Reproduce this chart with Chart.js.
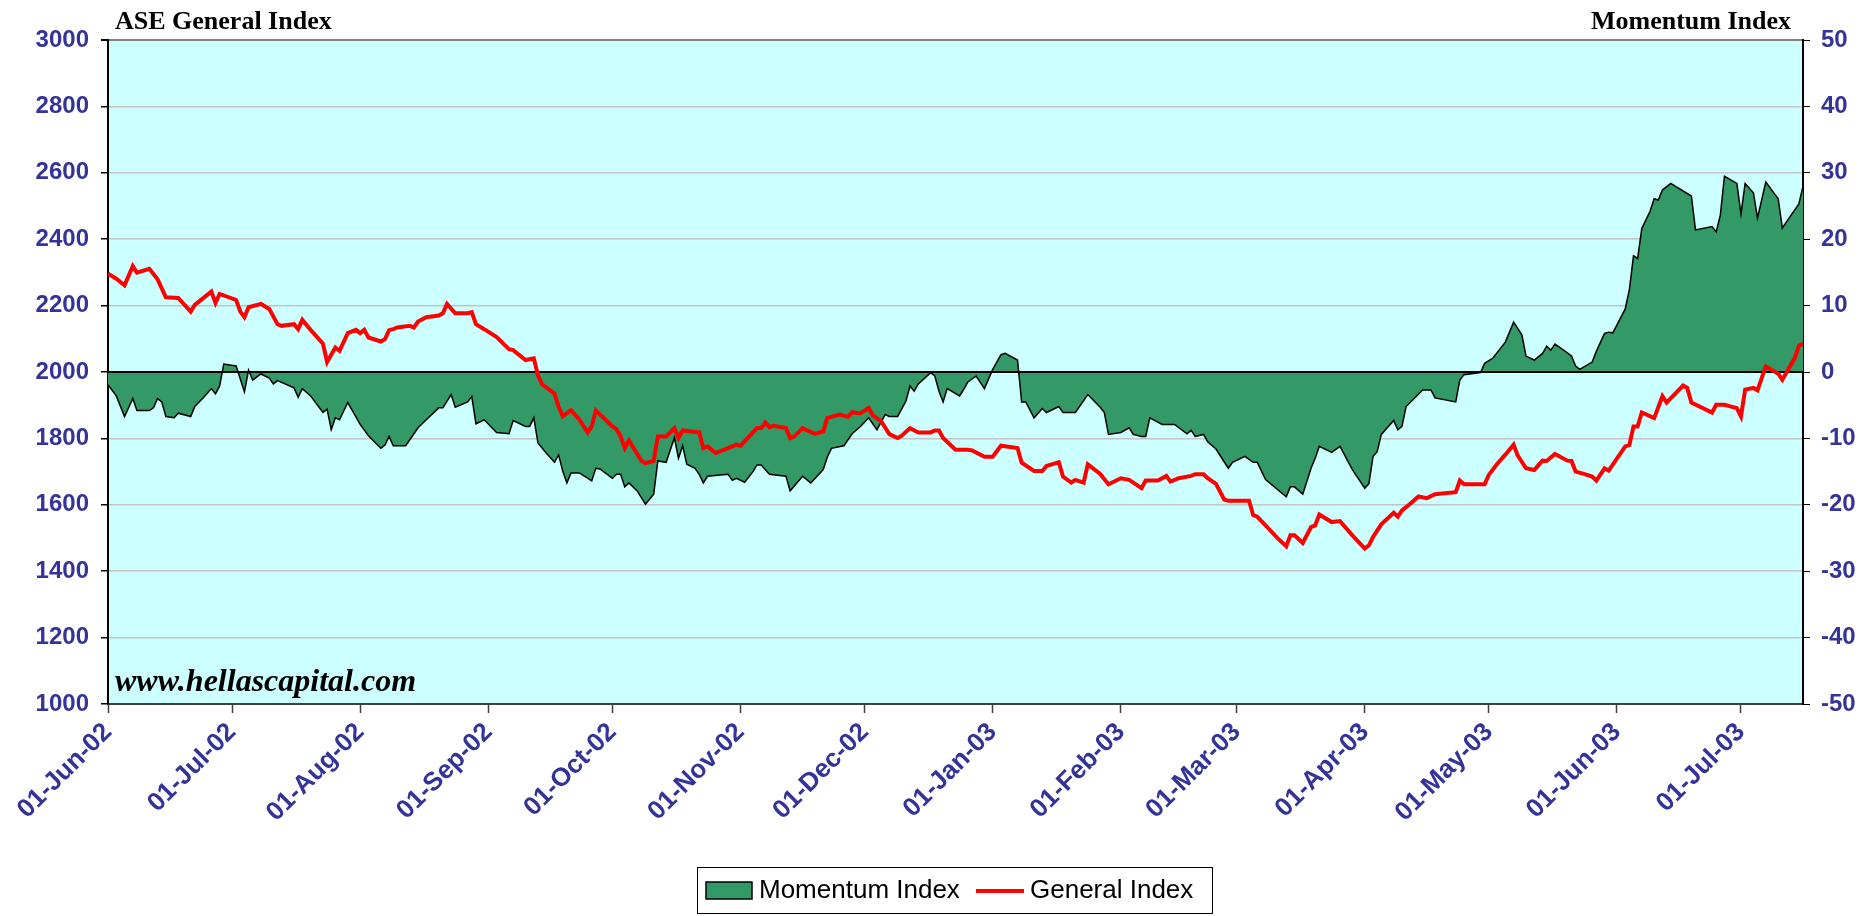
<!DOCTYPE html>
<html>
<head>
<meta charset="utf-8">
<title>ASE General Index vs Momentum Index</title>
<script src="https://cdn.jsdelivr.net/npm/chart.js@4.4.1/dist/chart.umd.min.js"></script>
<style>
  html, body { margin: 0; padding: 0; background: #ffffff; }
  canvas { display: block; }
</style>
</head>
<body>
<canvas id="chart" width="1860" height="916"></canvas>
<script>
// x axis tick labels (first of each month)
const monthTicks = ['01-Jun-02', '01-Jul-02', '01-Aug-02', '01-Sep-02', '01-Oct-02', '01-Nov-02',
    '01-Dec-02', '01-Jan-03', '01-Feb-03', '01-Mar-03', '01-Apr-03', '01-May-03', '01-Jun-03', '01-Jul-03'];
const lastDate = '2003-07-16';

// ASE General Index (left axis)
const gidxDates = [
    '2002-06-01', '2002-06-03', '2002-06-05', '2002-06-07', '2002-06-08', '2002-06-11', '2002-06-13', '2002-06-15',
    '2002-06-18', '2002-06-21', '2002-06-22', '2002-06-26', '2002-06-27', '2002-06-28', '2002-07-02', '2002-07-03',
    '2002-07-04', '2002-07-05', '2002-07-08', '2002-07-10', '2002-07-12', '2002-07-13', '2002-07-16', '2002-07-17',
    '2002-07-18', '2002-07-20', '2002-07-23', '2002-07-24', '2002-07-26', '2002-07-27', '2002-07-29', '2002-07-31',
    '2002-08-01', '2002-08-02', '2002-08-03', '2002-08-06', '2002-08-07', '2002-08-08', '2002-08-09', '2002-08-10',
    '2002-08-13', '2002-08-14', '2002-08-15', '2002-08-17', '2002-08-20', '2002-08-21', '2002-08-22', '2002-08-24',
    '2002-08-27', '2002-08-28', '2002-08-29', '2002-08-31', '2002-09-03', '2002-09-06', '2002-09-07', '2002-09-10',
    '2002-09-12', '2002-09-13', '2002-09-14', '2002-09-17', '2002-09-18', '2002-09-19', '2002-09-21', '2002-09-23',
    '2002-09-25', '2002-09-26', '2002-09-27', '2002-10-01', '2002-10-02', '2002-10-03', '2002-10-04', '2002-10-05',
    '2002-10-08', '2002-10-09', '2002-10-11', '2002-10-12', '2002-10-14', '2002-10-16', '2002-10-17', '2002-10-18',
    '2002-10-22', '2002-10-23', '2002-10-24', '2002-10-26', '2002-10-29', '2002-10-31', '2002-11-01', '2002-11-05',
    '2002-11-06', '2002-11-07', '2002-11-08', '2002-11-09', '2002-11-12', '2002-11-13', '2002-11-14', '2002-11-16',
    '2002-11-19', '2002-11-21', '2002-11-22', '2002-11-25', '2002-11-27', '2002-11-28', '2002-11-30', '2002-12-02',
    '2002-12-03', '2002-12-05', '2002-12-07', '2002-12-09', '2002-12-10', '2002-12-12', '2002-12-14', '2002-12-17',
    '2002-12-18', '2002-12-19', '2002-12-20', '2002-12-23', '2002-12-26', '2002-12-27', '2002-12-30', '2003-01-01',
    '2003-01-03', '2003-01-07', '2003-01-08', '2003-01-11', '2003-01-13', '2003-01-14', '2003-01-17', '2003-01-18',
    '2003-01-20', '2003-01-21', '2003-01-23', '2003-01-24', '2003-01-27', '2003-01-29', '2003-02-01', '2003-02-03',
    '2003-02-06', '2003-02-07', '2003-02-10', '2003-02-12', '2003-02-13', '2003-02-15', '2003-02-18', '2003-02-19',
    '2003-02-21', '2003-02-22', '2003-02-24', '2003-02-26', '2003-02-27', '2003-03-04', '2003-03-05', '2003-03-06',
    '2003-03-08', '2003-03-11', '2003-03-13', '2003-03-14', '2003-03-15', '2003-03-17', '2003-03-19', '2003-03-20',
    '2003-03-21', '2003-03-24', '2003-03-26', '2003-03-29', '2003-04-01', '2003-04-02', '2003-04-03', '2003-04-05',
    '2003-04-08', '2003-04-09', '2003-04-10', '2003-04-12', '2003-04-14', '2003-04-16', '2003-04-18', '2003-04-23',
    '2003-04-24', '2003-04-25', '2003-04-30', '2003-05-01', '2003-05-03', '2003-05-05', '2003-05-07', '2003-05-08',
    '2003-05-10', '2003-05-12', '2003-05-14', '2003-05-15', '2003-05-17', '2003-05-20', '2003-05-21', '2003-05-22',
    '2003-05-24', '2003-05-26', '2003-05-27', '2003-05-29', '2003-05-30', '2003-06-03', '2003-06-04', '2003-06-05',
    '2003-06-06', '2003-06-07', '2003-06-10', '2003-06-12', '2003-06-13', '2003-06-17', '2003-06-18', '2003-06-19',
    '2003-06-24', '2003-06-25', '2003-06-27', '2003-06-30', '2003-07-01', '2003-07-02', '2003-07-04', '2003-07-05',
    '2003-07-07', '2003-07-10', '2003-07-11', '2003-07-14', '2003-07-15', '2003-07-16'
];
const gidxValues = [
    2296, 2281, 2261, 2319, 2299, 2311, 2279, 2225,
    2223, 2182, 2202, 2242, 2208, 2235, 2217, 2182,
    2165, 2195, 2205, 2190, 2144, 2139, 2144, 2129,
    2157, 2127, 2085, 2030, 2074, 2064, 2117, 2127,
    2117, 2127, 2104, 2092, 2099, 2126, 2129, 2134,
    2139, 2134, 2152, 2165, 2170, 2177, 2205, 2177,
    2177, 2180, 2144, 2129, 2105, 2069, 2066, 2036,
    2041, 1990, 1963, 1935, 1895, 1867, 1885, 1857,
    1818, 1836, 1884, 1836, 1828, 1806, 1771, 1794,
    1733, 1725, 1733, 1806, 1806, 1831, 1801, 1824,
    1818, 1771, 1776, 1756, 1771, 1781, 1778, 1831,
    1831, 1848, 1834, 1838, 1831, 1801, 1806, 1831,
    1814, 1821, 1862, 1872, 1865, 1879, 1875, 1892,
    1869, 1852, 1813, 1801, 1808, 1831, 1818, 1818,
    1824, 1824, 1801, 1766, 1766, 1764, 1745, 1745,
    1778, 1771, 1727, 1702, 1702, 1717, 1728, 1685,
    1667, 1675, 1667, 1722, 1693, 1662, 1680, 1675,
    1650, 1673, 1673, 1687, 1670, 1680, 1687, 1692,
    1692, 1680, 1663, 1616, 1612, 1612, 1569, 1564,
    1538, 1498, 1475, 1508, 1508, 1485, 1533, 1538,
    1571, 1548, 1551, 1508, 1468, 1478, 1503, 1541,
    1576, 1564, 1583, 1603, 1625, 1620, 1632, 1638,
    1673, 1662, 1662, 1690, 1723, 1751, 1781, 1748,
    1710, 1705, 1733, 1732, 1753, 1733, 1732, 1700,
    1693, 1685, 1673, 1710, 1703, 1776, 1780, 1836,
    1836, 1878, 1861, 1927, 1908, 1959, 1952, 1908,
    1878, 1901, 1901, 1891, 1866, 1947, 1952, 1945,
    2017, 1995, 1977, 2042, 2079, 2086
];

// Momentum Index (right axis)
const momDates = [
    '2002-06-01', '2002-06-03', '2002-06-05', '2002-06-07', '2002-06-08', '2002-06-11', '2002-06-12', '2002-06-13',
    '2002-06-14', '2002-06-15', '2002-06-17', '2002-06-18', '2002-06-21', '2002-06-22', '2002-06-24', '2002-06-26',
    '2002-06-27', '2002-06-28', '2002-06-29', '2002-07-02', '2002-07-04', '2002-07-05', '2002-07-06', '2002-07-08',
    '2002-07-10', '2002-07-11', '2002-07-12', '2002-07-16', '2002-07-17', '2002-07-18', '2002-07-20', '2002-07-23',
    '2002-07-24', '2002-07-25', '2002-07-26', '2002-07-27', '2002-07-29', '2002-08-01', '2002-08-03', '2002-08-06',
    '2002-08-07', '2002-08-08', '2002-08-09', '2002-08-12', '2002-08-15', '2002-08-17', '2002-08-20', '2002-08-21',
    '2002-08-23', '2002-08-24', '2002-08-27', '2002-08-28', '2002-08-29', '2002-08-31', '2002-09-03', '2002-09-06',
    '2002-09-07', '2002-09-10', '2002-09-11', '2002-09-12', '2002-09-13', '2002-09-15', '2002-09-17', '2002-09-18',
    '2002-09-19', '2002-09-20', '2002-09-21', '2002-09-23', '2002-09-25', '2002-09-26', '2002-09-27', '2002-09-28',
    '2002-10-01', '2002-10-02', '2002-10-03', '2002-10-04', '2002-10-05', '2002-10-07', '2002-10-09', '2002-10-11',
    '2002-10-12', '2002-10-14', '2002-10-16', '2002-10-17', '2002-10-18', '2002-10-19', '2002-10-21', '2002-10-22',
    '2002-10-23', '2002-10-24', '2002-10-29', '2002-10-30', '2002-10-31', '2002-11-02', '2002-11-04', '2002-11-05',
    '2002-11-06', '2002-11-08', '2002-11-12', '2002-11-13', '2002-11-16', '2002-11-18', '2002-11-21', '2002-11-22',
    '2002-11-23', '2002-11-26', '2002-11-28', '2002-11-30', '2002-12-02', '2002-12-04', '2002-12-06', '2002-12-07',
    '2002-12-09', '2002-12-11', '2002-12-12', '2002-12-13', '2002-12-14', '2002-12-17', '2002-12-18', '2002-12-19',
    '2002-12-20', '2002-12-21', '2002-12-24', '2002-12-25', '2002-12-26', '2002-12-28', '2002-12-30', '2003-01-01',
    '2003-01-03', '2003-01-04', '2003-01-07', '2003-01-08', '2003-01-09', '2003-01-11', '2003-01-13', '2003-01-14',
    '2003-01-17', '2003-01-18', '2003-01-21', '2003-01-24', '2003-01-27', '2003-01-28', '2003-01-29', '2003-02-01',
    '2003-02-03', '2003-02-04', '2003-02-06', '2003-02-07', '2003-02-08', '2003-02-11', '2003-02-14', '2003-02-17',
    '2003-02-18', '2003-02-19', '2003-02-21', '2003-02-22', '2003-02-24', '2003-02-27', '2003-02-28', '2003-03-03',
    '2003-03-05', '2003-03-06', '2003-03-08', '2003-03-13', '2003-03-14', '2003-03-15', '2003-03-17', '2003-03-19',
    '2003-03-20', '2003-03-21', '2003-03-24', '2003-03-26', '2003-03-29', '2003-04-01', '2003-04-02', '2003-04-03',
    '2003-04-04', '2003-04-05', '2003-04-08', '2003-04-09', '2003-04-10', '2003-04-11', '2003-04-15', '2003-04-17',
    '2003-04-18', '2003-04-23', '2003-04-24', '2003-04-25', '2003-04-29', '2003-04-30', '2003-05-02', '2003-05-05',
    '2003-05-07', '2003-05-09', '2003-05-10', '2003-05-12', '2003-05-14', '2003-05-15', '2003-05-16', '2003-05-17',
    '2003-05-20', '2003-05-21', '2003-05-22', '2003-05-23', '2003-05-26', '2003-05-27', '2003-05-29', '2003-05-30',
    '2003-05-31', '2003-06-03', '2003-06-04', '2003-06-05', '2003-06-06', '2003-06-07', '2003-06-09', '2003-06-10',
    '2003-06-11', '2003-06-12', '2003-06-14', '2003-06-19', '2003-06-20', '2003-06-24', '2003-06-25', '2003-06-26',
    '2003-06-27', '2003-06-30', '2003-07-01', '2003-07-02', '2003-07-04', '2003-07-05', '2003-07-07', '2003-07-10',
    '2003-07-11', '2003-07-15', '2003-07-16'
];
const momValues = [
    -1.9, -3.6, -6.7, -4.0, -5.8, -5.8, -5.4, -4.0,
    -4.5, -6.7, -6.9, -6.2, -6.7, -5.2, -3.9, -2.5,
    -3.3, -2.1, 1.2, 0.9, -3.0, 0.3, -1.2, -0.3,
    -0.9, -1.8, -1.3, -2.4, -3.8, -2.5, -3.6, -6.1,
    -5.6, -8.7, -6.9, -7.2, -4.6, -7.9, -9.6, -11.5,
    -11.0, -9.7, -11.1, -11.1, -8.4, -7.2, -5.4, -5.4,
    -3.4, -5.3, -4.5, -3.7, -7.8, -7.2, -9.1, -9.3,
    -7.3, -8.2, -8.2, -6.9, -10.7, -12.2, -13.6, -12.5,
    -14.9, -16.7, -15.2, -15.2, -16.0, -16.4, -14.5, -14.6,
    -16.0, -15.4, -15.4, -17.3, -16.7, -17.9, -19.9, -18.4,
    -13.4, -13.6, -9.9, -13.0, -11.1, -13.9, -14.5, -15.4,
    -16.7, -15.7, -15.4, -16.3, -16.0, -16.6, -15.0, -14.0,
    -14.0, -15.4, -15.7, -17.9, -15.7, -16.7, -14.7, -12.8,
    -11.5, -11.1, -9.3, -8.2, -6.9, -8.7, -6.4, -6.7,
    -6.7, -4.4, -2.1, -2.9, -1.8, -0.1, -0.6, -2.9,
    -4.5, -2.5, -3.6, -2.6, -1.5, -0.6, -2.5, 0.4,
    2.6, 2.8, 1.8, -4.5, -4.5, -6.9, -5.5, -6.1,
    -5.2, -6.1, -6.1, -3.4, -5.3, -6.1, -9.4, -9.1,
    -8.4, -9.4, -9.7, -9.7, -6.9, -7.9, -7.9, -9.3,
    -8.8, -9.7, -9.4, -10.5, -11.6, -14.5, -13.6, -12.7,
    -13.6, -13.6, -16.2, -18.8, -17.3, -17.3, -18.4, -14.5,
    -13.0, -11.2, -12.1, -11.2, -14.7, -17.5, -16.8, -12.7,
    -12.0, -9.4, -7.3, -8.7, -8.2, -5.2, -2.7, -2.7,
    -3.9, -4.5, -1.2, -0.4, -0.1, 1.3, 2.1, 4.5,
    7.5, 5.6, 2.4, 1.8, 2.8, 3.9, 3.3, 4.2,
    2.9, 2.4, 0.9, 0.4, 1.5, 3.1, 5.8, 6.0,
    5.9, 9.5, 12.4, 17.5, 17.1, 21.6, 24.2, 26.1,
    25.9, 27.4, 28.4, 26.5, 21.4, 21.9, 21.1, 23.6,
    29.5, 28.4, 23.8, 28.4, 27.0, 23.2, 28.6, 26.1,
    21.7, 25.3, 28.0
];

const MONTHS = ['Jan', 'Feb', 'Mar', 'Apr', 'May', 'Jun', 'Jul', 'Aug', 'Sep', 'Oct', 'Nov', 'Dec'];
const START = Date.UTC(2002, 5, 1);

// days since 01-Jun-02
function dayOf(iso) {
    const [y, m, d] = iso.split('-').map(Number);
    return (Date.UTC(y, m - 1, d) - START) / 86400000;
}
function tickDay(label) {
    const [d, mon, yy] = label.split('-');
    return (Date.UTC(2000 + Number(yy), MONTHS.indexOf(mon), Number(d)) - START) / 86400000;
}

const tickDays = monthTicks.map(tickDay);
const tickLabelOf = {};
monthTicks.forEach((lbl, i) => { tickLabelOf[tickDays[i]] = lbl; });

const AXIS_BLUE = '#333399';
const SANS = "'Liberation Sans', Arial, sans-serif";
const SERIF = "'Liberation Serif', 'Times New Roman', serif";

// plot background
const plotBackground = {
    id: 'plotBackground',
    beforeDraw(chart) {
        const { ctx, chartArea: a } = chart;
        ctx.save();
        ctx.fillStyle = '#CCFFFF';
        ctx.fillRect(a.left, a.top, a.right - a.left, a.bottom - a.top);
        ctx.restore();
    }
};

// black zero line, drawn over the momentum area but under the index line
const zeroLine = {
    id: 'zeroLine',
    afterDatasetDraw(chart, args) {
        if (args.index !== 0) return;
        const { ctx, chartArea: a } = chart;
        const y = chart.scales.y1.getPixelForValue(0);
        ctx.save();
        ctx.strokeStyle = '#000000';
        ctx.lineWidth = 2;
        ctx.beginPath();
        ctx.moveTo(a.left, y);
        ctx.lineTo(a.right, y);
        ctx.stroke();
        ctx.restore();
    }
};

// axis titles, watermark and boxed legend
const decorations = {
    id: 'decorations',
    afterDraw(chart) {
        const { ctx, chartArea: a } = chart;
        ctx.save();
        ctx.fillStyle = '#000000';
        ctx.textBaseline = 'alphabetic';
        ctx.font = 'bold 26px ' + SERIF;
        ctx.textAlign = 'left';
        ctx.fillText('ASE General Index', 115, 29);
        ctx.textAlign = 'right';
        ctx.fillText('Momentum Index', 1791, 29);

        ctx.textAlign = 'left';
        ctx.font = 'italic bold 32px ' + SERIF;
        ctx.fillText('www.hellascapital.com', a.left + 7, a.bottom - 13);

        // legend box
        ctx.fillStyle = '#ffffff';
        ctx.strokeStyle = '#000000';
        ctx.lineWidth = 1;
        ctx.fillRect(697, 867, 515, 47);
        ctx.strokeRect(697.5, 867.5, 515, 46);

        ctx.fillStyle = '#339966';
        ctx.fillRect(706, 882, 46, 17);
        ctx.lineWidth = 1.5;
        ctx.strokeRect(706, 882, 46, 17);

        ctx.fillStyle = '#000000';
        ctx.font = '26px ' + SANS;
        ctx.fillText('Momentum Index', 759, 898);

        ctx.strokeStyle = '#FF0000';
        ctx.lineWidth = 4;
        ctx.beginPath();
        ctx.moveTo(976, 891);
        ctx.lineTo(1024, 891);
        ctx.stroke();
        ctx.fillText('General Index', 1030, 898);
        ctx.restore();
    }
};

const momPoints = momDates.map((d, i) => ({ x: dayOf(d), y: momValues[i] }));
const gidxPoints = gidxDates.map((d, i) => ({ x: dayOf(d), y: gidxValues[i] }));

new Chart(document.getElementById('chart').getContext('2d'), {
    type: 'line',
    data: {
        datasets: [{
            label: 'Momentum Index',
            data: momPoints,
            yAxisID: 'y1',
            borderColor: '#000000',
            borderWidth: 1.5,
            backgroundColor: '#339966',
            fill: 'origin',
            pointRadius: 0,
            tension: 0,
            order: 1
        }, {
            label: 'General Index',
            data: gidxPoints,
            yAxisID: 'y',
            borderColor: '#FF0000',
            borderWidth: 4,
            fill: false,
            pointRadius: 0,
            tension: 0,
            order: 0
        }]
    },
    options: {
        responsive: false,
        animation: false,
        devicePixelRatio: 1,
        layout: { padding: { top: 40, left: 0, right: 0, bottom: 0 } },
        plugins: {
            legend: { display: false },
            tooltip: { enabled: false }
        },
        scales: {
            x: {
                type: 'linear',
                min: 0,
                max: dayOf(lastDate),
                afterBuildTicks: (scale) => {
                    scale.ticks = tickDays.map(v => ({ value: v }));
                },
                afterFit: (scale) => {
                    scale.height = 212;
                    scale.paddingLeft = 0;
                    scale.paddingRight = 0;
                },
                grid: {
                    drawOnChartArea: false,
                    drawTicks: true,
                    tickLength: 9,
                    tickColor: '#404040',
                    tickWidth: 1.5
                },
                border: { color: '#404040', width: 2 },
                ticks: {
                    autoSkip: false,
                    minRotation: 45,
                    maxRotation: 45,
                    padding: 4,
                    color: AXIS_BLUE,
                    font: { family: SANS, size: 26, weight: 'bold' },
                    callback: (v) => tickLabelOf[v] || ''
                }
            },
            y: {
                position: 'left',
                min: 1000,
                max: 3000,
                afterFit: (scale) => { scale.width = 108; },
                grid: {
                    color: (c) => c.tick.value === 3000 ? '#808080' : '#C4C4C4',
                    lineWidth: (c) => c.tick.value === 3000 ? 2 : 1.5,
                    tickLength: 7,
                    tickColor: '#000000'
                },
                border: { color: '#000000', width: 2 },
                ticks: {
                    stepSize: 200,
                    padding: 12,
                    color: AXIS_BLUE,
                    font: { family: SANS, size: 24, weight: 'bold' },
                    callback: (v) => String(v)
                }
            },
            y1: {
                position: 'right',
                min: -50,
                max: 50,
                afterFit: (scale) => { scale.width = 57; },
                grid: {
                    drawOnChartArea: false,
                    tickLength: 7,
                    tickColor: '#000000'
                },
                border: { color: '#000000', width: 2 },
                ticks: {
                    stepSize: 10,
                    padding: 11,
                    color: AXIS_BLUE,
                    font: { family: SANS, size: 24, weight: 'bold' },
                    callback: (v) => String(v)
                }
            }
        }
    },
    plugins: [plotBackground, zeroLine, decorations]
});
</script>
</body>
</html>
